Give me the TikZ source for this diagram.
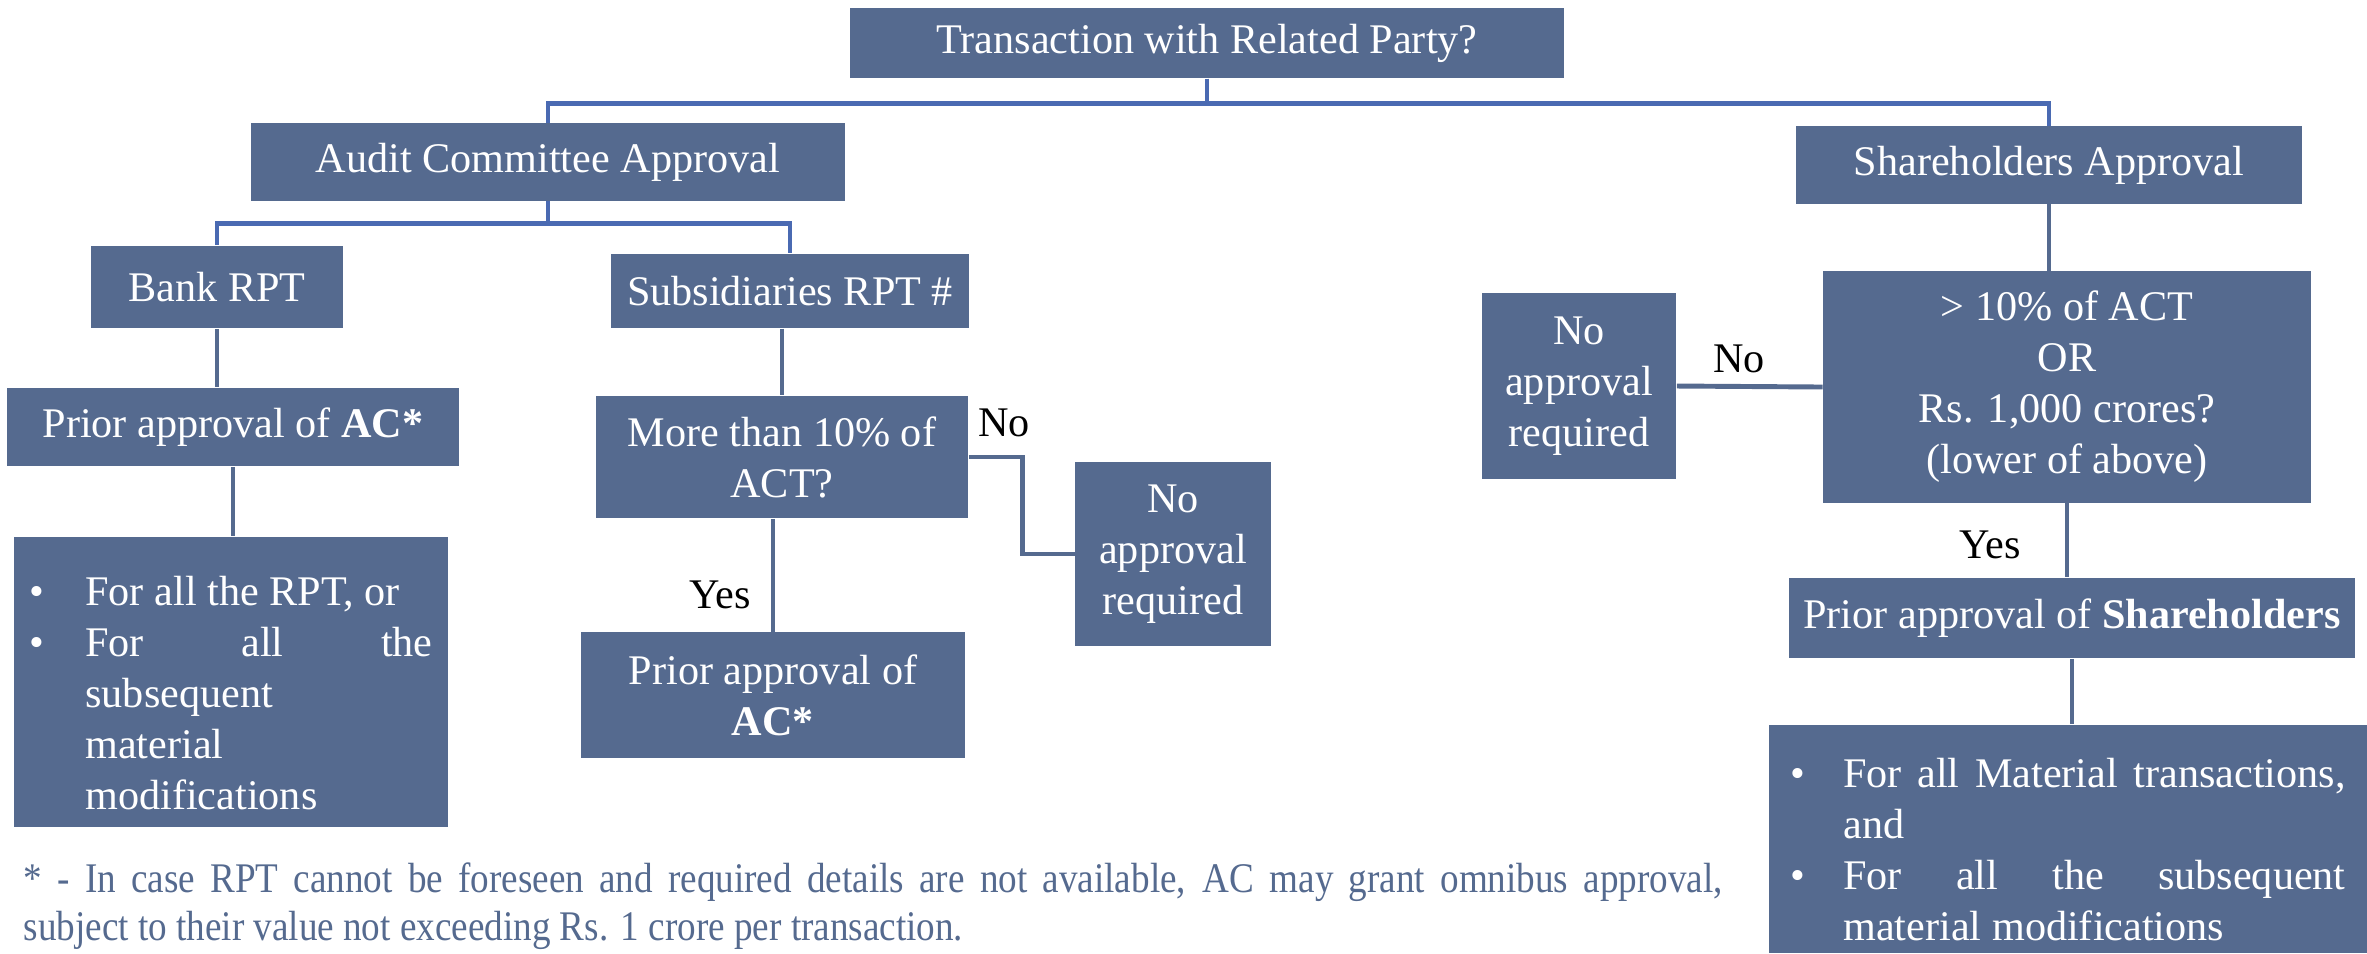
\documentclass[tikz,border=0pt]{standalone}
\usepackage{fontspec}
\setmainfont{Liberation Serif}
\newfontfamily\notefont{Liberation Serif}[FakeStretch=0.88]
\usepackage{enumitem}
\setlist[itemize]{label=\textbullet, nosep, align=left, labelindent=0pt, labelsep=0pt}
\hyphenpenalty=10000
\hbadness=10000
\definecolor{slate}{HTML}{556A8F}
\definecolor{wire}{HTML}{4A6AB2}

\begin{document}
\begin{tikzpicture}[x=0.01cm, y=-0.01cm, every node/.style={font=\fontsize{12}{14.5}\selectfont}]
    % Styles
    \tikzstyle{box} = [rectangle, fill=slate, text=white, align=center, inner sep=2pt]
    \tikzstyle{listbox} = [box, align=justify, inner sep=0pt]
    \tikzstyle{stem} = [draw=slate, line width=1.4pt]
    \tikzstyle{branch} = [draw=wire, line width=1.4pt]
    \tikzstyle{caption} = [text=black, inner sep=0pt]

    \useasboundingbox (0,0) rectangle (2367,953);

    % Nodes
    \node (top) [box, minimum width=7.14cm, minimum height=0.70cm] at (1207,43) {Transaction with Related Party?};
    \node (audit) [box, minimum width=5.93cm, minimum height=0.77cm] at (548,162) {Audit Committee Approval};
    \node (share) [box, minimum width=5.06cm, minimum height=0.77cm] at (2049,165) {Shareholders Approval};

    \node (bank) [box, minimum width=2.51cm, minimum height=0.82cm] at (217,287) {Bank RPT};
    \node (subs) [box, minimum width=3.58cm, minimum height=0.74cm] at (790,291) {Subsidiaries RPT \#};
    \node (priorbank) [box, minimum width=4.51cm, minimum height=0.78cm] at (233,427) {Prior approval of \textbf{AC*}};
    \node (listbank) [listbox, minimum width=4.33cm, minimum height=2.90cm, text width=4.03cm] at (231,682)
        {\begin{itemize}[leftmargin=0.56cm, labelwidth=0.56cm]
            \item For all the RPT, or
            \item For all the\linebreak subsequent\\ material\\ modifications
        \end{itemize}};
    \node (tenpct) [box, minimum width=3.72cm, minimum height=1.22cm] at (782,457) {More than 10\% of\\ACT?};
    \node (nosubs) [box, minimum width=1.95cm, minimum height=1.84cm] at (1173,554) {No\\approval\\required};
    \node (priorsubs) [box, minimum width=3.84cm, minimum height=1.25cm] at (773,695) {Prior approval of\\\textbf{AC*}};

    \node (limit) [box, minimum width=4.87cm, minimum height=2.31cm] at (2067,387) {> 10\% of ACT\\OR\\Rs. 1,000 crores?\\(lower of above)};
    \node (noshare) [box, minimum width=1.94cm, minimum height=1.86cm] at (1579,386) {No\\approval\\required};
    \node (priorshare) [box, minimum width=5.66cm, minimum height=0.80cm] at (2072,618) {Prior approval of \textbf{Shareholders}};
    \node (listshare) [listbox, minimum width=5.98cm, minimum height=2.28cm, text width=5.55cm] at (2068,839)
        {\begin{itemize}[leftmargin=0.53cm, labelwidth=0.53cm]
            \item For all Material transactions, and
            \item For all the subsequent material modifications
        \end{itemize}};

    % Lines
    \draw [branch] (top.south) -- ++(0,25) -| (audit.north);
    \draw [branch] (top.south) -- ++(0,25) -| (share.north);
    \draw [branch] (audit.south) -- ++(0,22) -| (bank.north);
    \draw [branch] (audit.south) -- ++(0,22) -| (subs.north);
    \draw [stem] (bank.south) -- (bank.south |- priorbank.north);
    \draw [stem] (priorbank.south) -- (priorbank.south |- listbank.north);
    \draw [stem] (tenpct.north |- subs.south) -- (tenpct.north);
    \draw [stem] (priorsubs.north |- tenpct.south) -- (priorsubs.north);
    \draw [stem] (tenpct.east) -- ++(54,0) |- (nosubs.west);
    \draw [stem] (share.south) -- (share.south |- limit.north);
    \draw [stem] (limit.west) -- (noshare.east);
    \draw [stem] (limit.south) -- (limit.south |- priorshare.north);
    \draw [stem] (priorshare.south) -- (priorshare.south |- listshare.north);

    % Captions
    \node (nosubslbl) [caption] at (1004,423) {No};
    \node (yessubslbl) [caption] at (720,595) {Yes};
    \node (nosharelbl) [caption] at (1739,359) {No};
    \node (yessharelbl) [caption] at (1990,545) {Yes};

    % Footnote
    \node (note) [anchor=north west, inner sep=0pt, text width=16.98cm, align=justify, text=slate,
        font=\notefont\fontsize{12}{13.6}\selectfont] at (23,862)
        {* - In case RPT cannot be foreseen and required details are not available, AC may grant omnibus approval,\linebreak subject to their value not exceeding Rs. 1 crore per transaction.};
\end{tikzpicture}
\end{document}
